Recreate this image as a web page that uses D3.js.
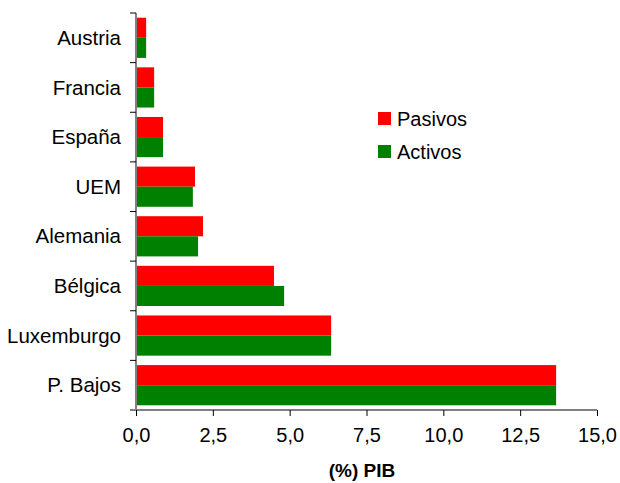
<!DOCTYPE html>
<html><head><meta charset="utf-8">
<script src="https://cdn.jsdelivr.net/npm/d3@7"></script>
<style>body{margin:0;background:#fff}svg{display:block}text{font-family:"Liberation Sans",Arial,sans-serif}</style>
</head><body><svg id="c" width="620" height="483"></svg>
<script>
const categories = ["Austria","Francia","España","UEM","Alemania","Bélgica","Luxemburgo","P. Bajos"];
const pasivos = [0.33,0.59,0.88,1.92,2.18,4.49,6.35,13.67];
const activos = [0.33,0.59,0.88,1.85,2.02,4.82,6.35,13.67];
const seriesNames = ["Pasivos","Activos"];
const seriesColors = ["#ff0000","#008000"];
const xTicks = [0,2.5,5,7.5,10,12.5,15];
const xTitle = "(%) PIB";

const svg = d3.select("#c");
const x = d3.scaleLinear().domain([0,15]).range([136,597]);
const y = d3.scaleBand().domain(categories).range([13,410]).paddingInner(0.19).paddingOuter(0.095);
const sub = d3.scaleBand().domain(seriesNames).range([0,y.bandwidth()]);
const data = categories.map((c,i)=>({c, vals:[pasivos[i],activos[i]]}));

const g = svg.append("g");
data.forEach(d=>{
  seriesNames.forEach((s,j)=>{
    g.append("rect").attr("x",x(0)).attr("y",y(d.c)+sub(s))
      .attr("width",x(d.vals[j])-x(0)).attr("height",sub.bandwidth())
      .attr("fill",seriesColors[j]);
  });
});

// y axis
const yb = d3.scaleBand().domain(categories).range([13,410]);
svg.append("line").attr("x1",136).attr("x2",136).attr("y1",13).attr("y2",410).attr("stroke","#808080").attr("stroke-width",2);
const yEdges = categories.map(c=>yb(c)).concat([410]);
yEdges.forEach(v=>svg.append("line").attr("x1",130).attr("x2",136).attr("y1",v).attr("y2",v).attr("stroke","#000").attr("stroke-width",1));
categories.forEach(c=>svg.append("text").attr("x",121).attr("y",yb(c)+yb.bandwidth()/2).attr("dy","0.35em")
  .attr("text-anchor","end").attr("font-size",20.5).attr("fill","#000").text(c));

// x axis
const xa = svg.append("g").attr("transform","translate(0,410)")
  .call(d3.axisBottom(x).tickValues(xTicks).tickSize(6).tickPadding(12).tickFormat(d=>d3.format(".1f")(d).replace(".",",")));
xa.select(".domain").attr("stroke","#808080").attr("stroke-width",2).attr("d","M130,0H597");
xa.selectAll(".tick line").attr("stroke","#000");
xa.selectAll("text").attr("font-size",20).attr("fill","#000").attr("font-family","Liberation Sans, Arial, sans-serif");
svg.append("text").attr("x",362).attr("y",477).attr("text-anchor","middle").attr("font-size",19).attr("font-weight","bold").text(xTitle);

// legend
seriesNames.forEach((s,j)=>{
  const ly = 112 + j*33;
  svg.append("rect").attr("x",378).attr("y",ly).attr("width",13).attr("height",13).attr("fill",seriesColors[j]);
  svg.append("text").attr("x",397).attr("y",ly+6.5).attr("dy","0.35em").attr("font-size",20).text(s);
});
</script></body></html>
